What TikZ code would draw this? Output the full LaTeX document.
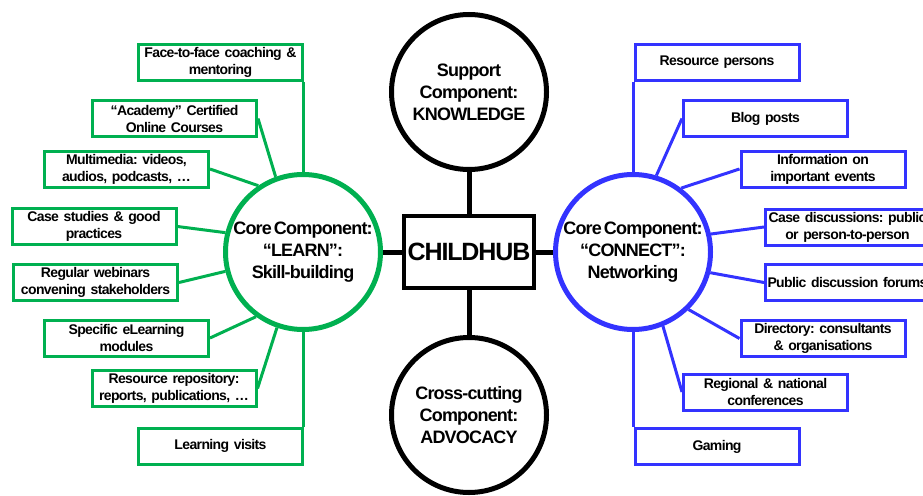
\documentclass[tikz,border=0pt]{standalone}
\usepackage{fontspec}
\setmainfont{Liberation Sans}[LetterSpace=-4.5, WordSpace=0.5]
\definecolor{cgreen}{RGB}{0,176,80}
\definecolor{cblue}{RGB}{51,51,255}
\begin{document}
\frenchspacing
\begin{tikzpicture}[x=1pt,y=-1pt,
  boxbase/.style={line width=3pt, minimum width=164pt, minimum height=36pt, inner sep=1pt, align=center, text width=160pt, font=\fontsize{14}{17}\selectfont\bfseries\frenchspacing},
  gbox/.style={boxbase, draw=cgreen},
  bbox/.style={boxbase, draw=cblue},
  gline/.style={draw=cgreen, line width=3pt},
  bline/.style={draw=cblue, line width=3pt},
  circbase/.style={circle, line width=5pt, minimum size=155pt, inner sep=0pt, align=center, font=\fontsize{18}{22}\selectfont\bfseries\frenchspacing},
  kline/.style={draw=black, line width=5pt}]
\useasboundingbox (0,0) rectangle (923,495);
\clip (0,0) rectangle (923,495);
% central nodes
\node[draw=black, line width=4.5pt, minimum width=130pt, minimum height=72pt, inner sep=0pt, font=\fontsize{25}{28}\selectfont\bfseries] (hub) at (469,252) {CHILDHUB};
\node[circbase, draw=black] (know) at (469,92) {Support\\Component:\\KNOWLEDGE};
\node[circbase, draw=black] (adv) at (469,415) {Cross-cutting\\Component:\\ADVOCACY};
\node[circbase, draw=cgreen] (lc) at (303,252) {Core Component:\\“LEARN”:\\Skill-building};
\node[circbase, draw=cblue] (rc) at (633,252) {Core Component:\\“CONNECT”:\\Networking};
\draw[kline] (know) -- (hub);
\draw[kline] (hub) -- (adv);
\draw[kline] (lc) -- (hub);
\draw[kline] (hub) -- (rc);
% left boxes
\node[gbox] (l1) at (220.5,62.5) {Face-to-face coaching \&\\mentoring};
\node[gbox] (l2) at (174.5,118.5) {“Academy” Certified\\Online Courses};
\node[gbox] (l3) at (126.5,169) {Multimedia: videos,\\audios, podcasts, …};
\node[gbox] (l4) at (94,226.5) {Case studies \& good\\practices};
\node[gbox] (l5) at (95.5,282.5) {Regular webinars\\convening stakeholders};
\node[gbox] (l6) at (126.5,338) {Specific eLearning\\modules};
\node[gbox] (l7) at (174,388.5) {Resource repository:\\reports, publications, …};
\node[gbox] (l8) at (220.5,446) {Learning visits};
\draw[gline] (lc.north) -- (lc.north |- l1.south);
\draw[gline] (l2.east) -- (lc.110);
\draw[gline] (l3.east) -- (lc.124);
\draw[gline] (l4.east) -- (lc.166);
\draw[gline] (l5.east) -- (lc.194);
\draw[gline] (l6.east) -- (lc.234);
\draw[gline] (l7.east) -- (lc.251);
\draw[gline] (lc.south) -- (lc.south |- l8.north);
% right boxes
\node[bbox] (r1) at (717,62.5) {Resource persons};
\node[bbox] (r2) at (765.5,118.5) {Blog posts};
\node[bbox] (r3) at (823,169) {Information on\\important events};
\node[bbox] (r4) at (847.5,227) {Case discussions: public\\or person-to-person};
\node[bbox] (r5) at (847.5,282.5) {Public discussion forums};
\node[bbox] (r6) at (823,338.5) {Directory: consultants\\\& organisations};
\node[bbox] (r7) at (765.5,392) {Regional \& national\\conferences};
\node[bbox] (r8) at (717,446.5) {Gaming};
\draw[bline] (rc.north) -- (rc.north |- r1.south);
\draw[bline] (r2.west) -- (rc.73);
\draw[bline] (r3.west) -- (rc.53);
\draw[bline] (r4.west) -- (rc.13);
\draw[bline] (r5.west) -- (rc.345);
\draw[bline] (r6.west) -- (rc.314);
\draw[bline] (r7.west) -- (rc.292);
\draw[bline] (rc.south) -- (rc.south |- r8.north);
\end{tikzpicture}
\end{document}
